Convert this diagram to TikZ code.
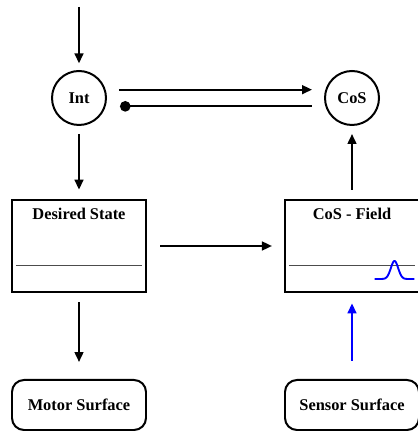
\documentclass[tikz,border=0pt]{standalone}
\usepackage{fontspec}
\setmainfont{Liberation Serif}
\usetikzlibrary{arrows.meta,positioning}

\begin{document}
\begin{tikzpicture}[
        every node/.style={font=\bfseries\fontsize{14}{16}\selectfont},
        conn/.style={line width=1.7pt, -{Triangle[length=8.5pt,width=7.5pt]}},
        state/.style={draw, circle, line width=1.7pt, minimum size=1.62cm, inner sep=0pt},
        field/.style={draw, rectangle, line width=1.8pt, minimum width=4.02cm, minimum height=2.78cm},
        surface/.style={draw, rectangle, rounded corners=0.36cm, line width=1.7pt, minimum width=4.02cm, minimum height=1.5cm},
        axis/.style={line width=1.4pt, black!70}
    ]
    \useasboundingbox (0,0) rectangle (12.54,12.93);

    % Define nodes
    \coordinate (in) at (2.37,12.72);
    \node[state] (int) at (2.37,9.99) {Int};
    \node[state] (cos) at (10.56,9.99) {CoS};
    \node[field] (des) at (2.37,5.55) {};
    \node[field] (fld) at (10.56,5.55) {};
    \node at ([yshift=-0.45cm]des.north) {Desired State};
    \node at ([yshift=-0.45cm]fld.north) {CoS - Field};
    \node[surface, anchor=north] (motor) at (2.37,1.56) {Motor Surface};
    \node[surface, anchor=north] (sensor) at (10.56,1.56) {Sensor Surface};

    % Draw fields
    \draw[axis] ([shift={(0.15,0.84)}]des.south west) -- ([shift={(-0.15,0.84)}]des.south east);
    \draw[axis] ([shift={(0.15,0.84)}]fld.south west) -- ([shift={(-0.15,0.84)}]fld.south east);
    \draw[blue, line width=1.6pt] plot[domain=-0.6:0.6, samples=80, smooth]
        ({11.835+\x},{4.56+0.54*exp(-(\x)*(\x)/0.0242)});

    % Draw connections
    \draw[conn, shorten >=0.2cm] (in) -- (int);
    \draw[conn, shorten <=0.36cm, shorten >=0.36cm] ([yshift=0.25cm]int.east) -- ([yshift=0.25cm]cos.west);
    \draw[line width=1.7pt, {Circle[length=9pt]}-, shorten <=0.39cm, shorten >=0.36cm]
        ([yshift=-0.25cm]int.east) -- ([yshift=-0.25cm]cos.west);
    \draw[conn, shorten <=0.24cm, shorten >=0.27cm] (int) -- (des);
    \draw[conn, shorten <=0.39cm, shorten >=0.36cm] (des) -- (fld);
    \draw[conn, shorten <=0.27cm, shorten >=0.24cm] (fld) -- (cos);
    \draw[conn, shorten <=0.27cm, shorten >=0.51cm] (des) -- (motor);
    \draw[conn, blue, shorten <=0.54cm, shorten >=0.3cm] (sensor) -- (fld);
\end{tikzpicture}
\end{document}
